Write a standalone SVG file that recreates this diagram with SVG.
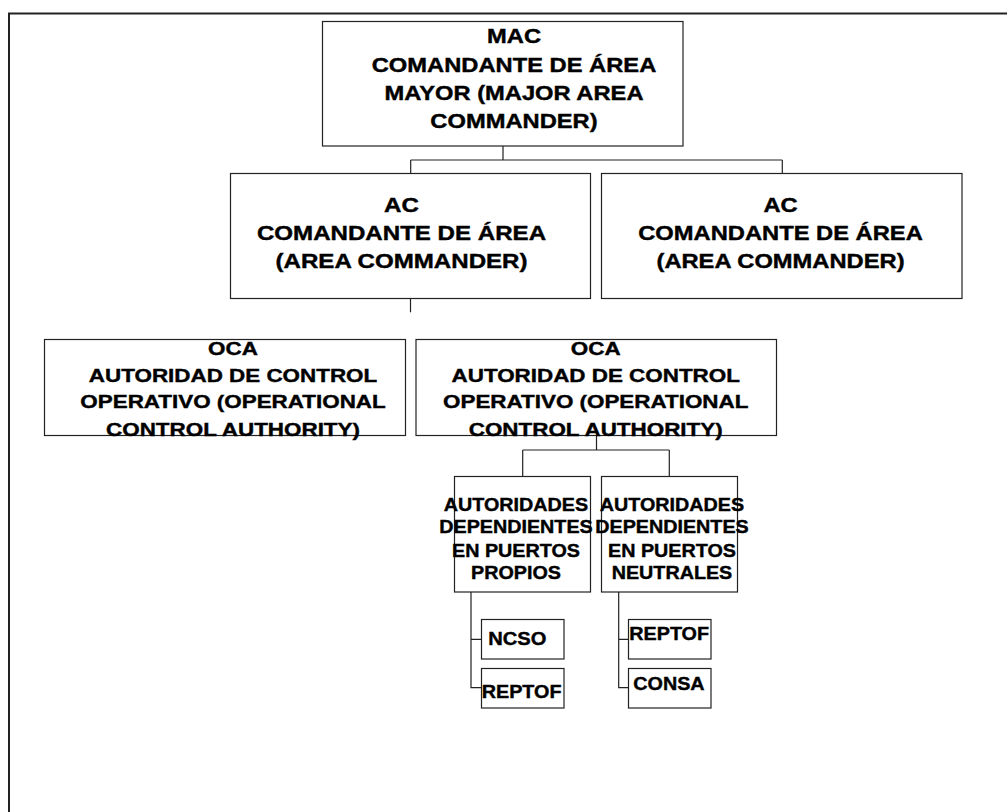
<svg xmlns="http://www.w3.org/2000/svg" width="1007" height="812" viewBox="0 0 1007 812">
<style>
.bx{fill:#fff;stroke:#222;stroke-width:1.2}
.t{font-family:"Liberation Sans",Arial,sans-serif;font-weight:bold;fill:#000;stroke:#000;stroke-width:0.4}
.c{text-anchor:middle}
.cn{fill:none;stroke:#222;stroke-width:1.2}
</style>
<rect x="0" y="0" width="1007" height="812" fill="#fff"/>
<rect x="9" y="13.5" width="1010" height="812" fill="none" stroke="#222" stroke-width="2"/>
<g id="connectors">
<path class="cn" d="M503 146V160M410.7 160H782.3M410.7 160V173.5M782.3 160V173.5"/>
<path class="cn" d="M410.5 298.5V312.3"/>
<path class="cn" d="M596.5 435.5V450M522.7 450H669.3M522.7 450V476.5M669.3 450V476.5"/>
<path class="cn" d="M471 592V687.7H481.5M471 639.3H481.5"/>
<path class="cn" d="M618.7 592V687.7H628.5M618.7 639.3H628.5"/>
</g>
<g id="mac">
<rect class="bx" x="322.5" y="21.5" width="360.5" height="124.5"/>
<g transform="translate(514 0) scale(1.21 1)">
<text class="t c" font-size="19.6" x="0" y="43">MAC</text>
<text class="t c" font-size="19.6" x="0" y="72">COMANDANTE DE ÁREA</text>
<text class="t c" font-size="19.6" x="0" y="100">MAYOR (MAJOR AREA</text>
<text class="t c" font-size="19.6" x="0" y="127.7">COMMANDER)</text>
</g>
</g>
<g id="ac1">
<rect class="bx" x="230.5" y="173.5" width="360" height="125"/>
<g transform="translate(401.5 0) scale(1.23 1)">
<text class="t c" font-size="19.6" x="0" y="211.8">AC</text>
<text class="t c" font-size="19.6" x="0" y="240">COMANDANTE DE ÁREA</text>
<text class="t c" font-size="19.6" x="0" y="268.3">(AREA COMMANDER)</text>
</g>
</g>
<g id="ac2">
<rect class="bx" x="601.5" y="173.5" width="360.5" height="125"/>
<g transform="translate(780.5 0) scale(1.21 1)">
<text class="t c" font-size="19.6" x="0" y="211.8">AC</text>
<text class="t c" font-size="19.6" x="0" y="240">COMANDANTE DE ÁREA</text>
<text class="t c" font-size="19.6" x="0" y="268.3">(AREA COMMANDER)</text>
</g>
</g>
<g id="oca1">
<rect class="bx" x="44.5" y="339.5" width="361" height="96"/>
<g transform="translate(233 0) scale(1.18 1)">
<text class="t c" font-size="19" x="0" y="355">OCA</text>
<text class="t c" font-size="19" x="0" y="381.7">AUTORIDAD DE CONTROL</text>
<text class="t c" font-size="19" x="0" y="408.3">OPERATIVO (OPERATIONAL</text>
<text class="t c" font-size="19" x="0" y="436.5">CONTROL AUTHORITY)</text>
</g>
</g>
<g id="oca2">
<rect class="bx" x="416" y="339.5" width="360.5" height="96"/>
<g transform="translate(595.7 0) scale(1.18 1)">
<text class="t c" font-size="19" x="0" y="355">OCA</text>
<text class="t c" font-size="19" x="0" y="381.7">AUTORIDAD DE CONTROL</text>
<text class="t c" font-size="19" x="0" y="408.3">OPERATIVO (OPERATIONAL</text>
<text class="t c" font-size="19" x="0" y="436.5">CONTROL AUTHORITY)</text>
</g>
</g>
<g id="propios">
<rect class="bx" x="454.5" y="476.5" width="136" height="115.5"/>
<g transform="translate(516 0) scale(1.05 1)">
<text class="t c" font-size="18.8" x="0" y="510.7">AUTORIDADES</text>
<text class="t c" font-size="18.8" x="0" y="533.5">DEPENDIENTES</text>
<text class="t c" font-size="18.8" x="0" y="556.7">EN PUERTOS</text>
<text class="t c" font-size="18.8" x="0" y="579.3">PROPIOS</text>
</g>
</g>
<g id="neutrales">
<rect class="bx" x="601.5" y="476.5" width="136" height="115.5"/>
<g transform="translate(672 0) scale(1.05 1)">
<text class="t c" font-size="18.8" x="0" y="510.7">AUTORIDADES</text>
<text class="t c" font-size="18.8" x="0" y="533.5">DEPENDIENTES</text>
<text class="t c" font-size="18.8" x="0" y="556.7">EN PUERTOS</text>
<text class="t c" font-size="18.8" x="0" y="579.3">NEUTRALES</text>
</g>
</g>
<g id="ncso">
<rect class="bx" x="481.5" y="619.5" width="82.5" height="39.5"/>
<text class="t" font-size="19" transform="translate(488.3 645) scale(1.06 1)" x="0" y="0">NCSO</text>
</g>
<g id="reptof1">
<rect class="bx" x="481.5" y="668.5" width="82.5" height="39.5"/>
<text class="t" font-size="19" transform="translate(481.7 698.3) scale(1.04 1)" x="0" y="0">REPTOF</text>
</g>
<g id="reptof2">
<rect class="bx" x="628.5" y="619.5" width="82.5" height="39.5"/>
<text class="t" font-size="19" transform="translate(629.3 640) scale(1.04 1)" x="0" y="0">REPTOF</text>
</g>
<g id="consa">
<rect class="bx" x="628.5" y="668.5" width="82.5" height="39.5"/>
<text class="t" font-size="19" transform="translate(633.3 690) scale(1.04 1)" x="0" y="0">CONSA</text>
</g>
</svg>
